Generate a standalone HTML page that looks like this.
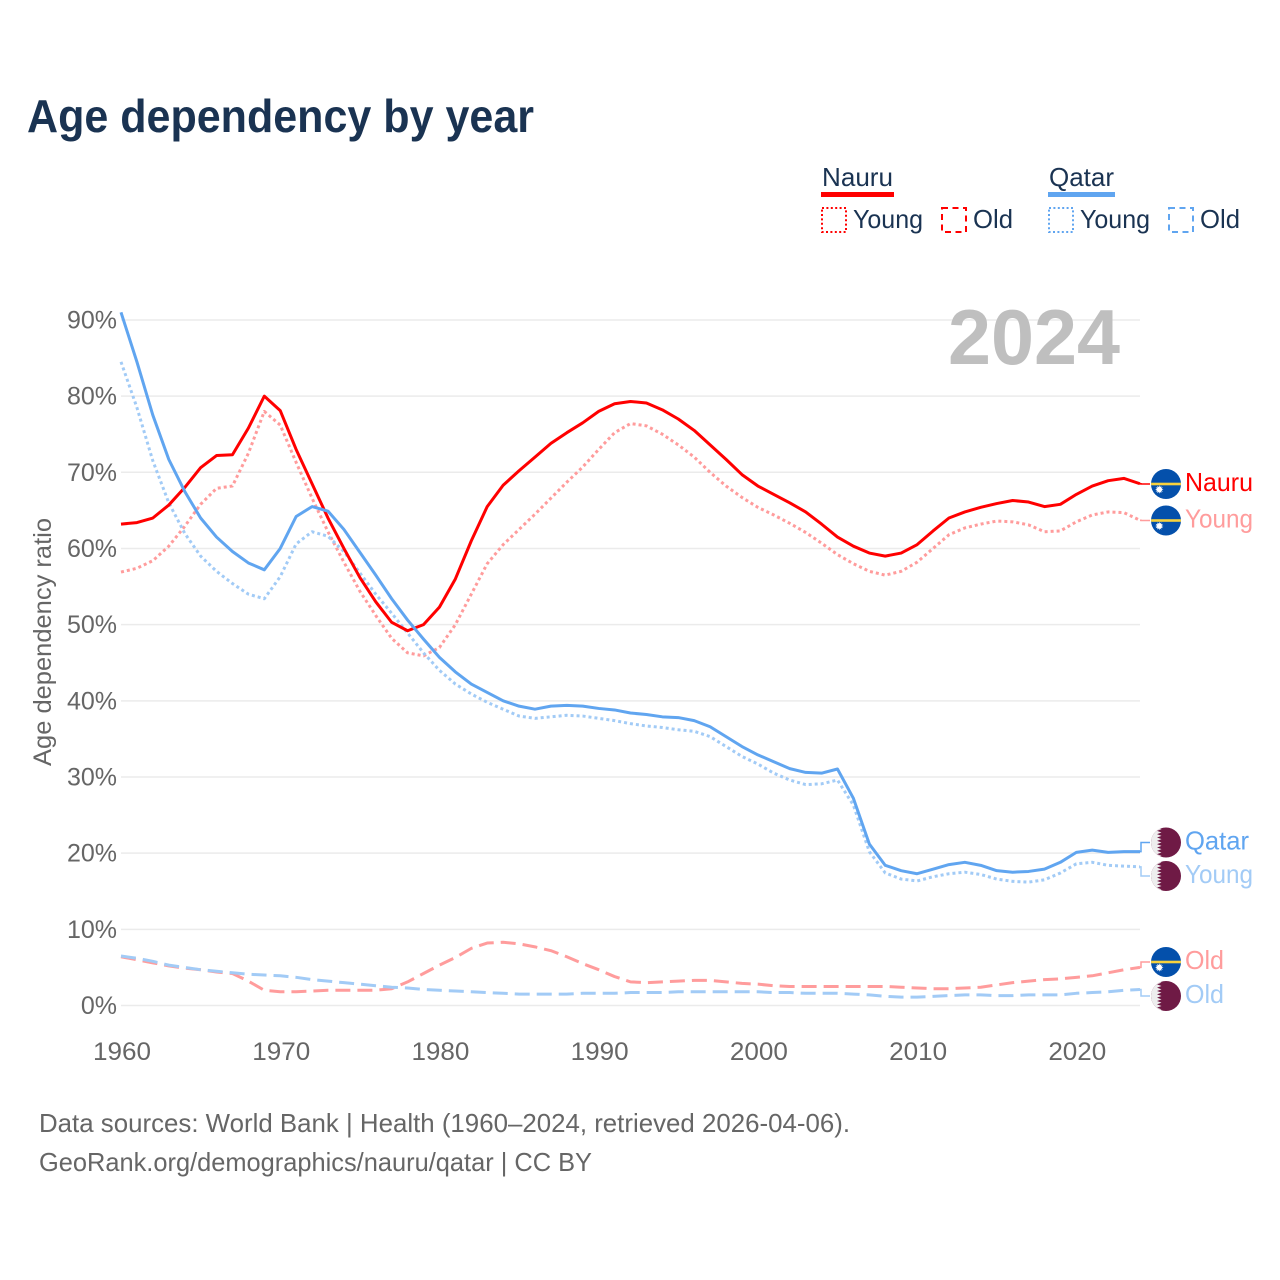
<!DOCTYPE html>
<html lang="en">
<head>
<meta charset="utf-8">
<title>Age dependency by year</title>
<style>
html,body{margin:0;padding:0;background:#fff;width:1280px;height:1280px;overflow:hidden}
svg{display:block;font-family:"Liberation Sans",sans-serif}
</style>
</head>
<body>
<svg id="chart" xmlns="http://www.w3.org/2000/svg" width="1280" height="1280" viewBox="0 0 1280 1280">
  <text x="27" y="132" font-size="46" font-weight="700" fill="#1a3352" textLength="507" lengthAdjust="spacingAndGlyphs">Age dependency by year</text>

  <g font-size="26" fill="#1a3352">
    <g>
      <text x="822" y="186" textLength="71" lengthAdjust="spacingAndGlyphs">Nauru</text>
      <rect x="821" y="192" width="73" height="5" fill="#ff0000"/>
      <rect x="822" y="208" width="24" height="24" fill="none" stroke="#ff0000" stroke-width="2" stroke-dasharray="2 2.4"/>
      <text x="853" y="228" textLength="70" lengthAdjust="spacingAndGlyphs">Young</text>
      <rect x="942" y="208" width="24" height="24" fill="none" stroke="#ff0000" stroke-width="2" stroke-dasharray="6 4.5"/>
      <text x="973" y="228" textLength="40" lengthAdjust="spacingAndGlyphs">Old</text>
    </g>
    <g>
      <text x="1049" y="186" textLength="65" lengthAdjust="spacingAndGlyphs">Qatar</text>
      <rect x="1048" y="192" width="67" height="5" fill="#60a5f0"/>
      <rect x="1049" y="208" width="24" height="24" fill="none" stroke="#60a5f0" stroke-width="2" stroke-dasharray="2 2.4"/>
      <text x="1080" y="228" textLength="70" lengthAdjust="spacingAndGlyphs">Young</text>
      <rect x="1169" y="208" width="24" height="24" fill="none" stroke="#60a5f0" stroke-width="2" stroke-dasharray="6 4.5"/>
      <text x="1200" y="228" textLength="40" lengthAdjust="spacingAndGlyphs">Old</text>
    </g>
  </g>

  <text transform="translate(51,642) rotate(-90)" text-anchor="middle" font-size="25" fill="#666666" textLength="248" lengthAdjust="spacingAndGlyphs">Age dependency ratio</text>

  <g id="grid-layer"></g>
  <g id="y-tick-layer"></g>
  <g id="x-tick-layer"></g>

  <text x="948" y="364" font-size="78" font-weight="700" fill="#bfbfbf" textLength="172" lengthAdjust="spacingAndGlyphs">2024</text>

  <g id="series-layer"></g>
  <g id="label-layer"></g>

  <text x="39" y="1132" font-size="26" fill="#666666" textLength="811" lengthAdjust="spacingAndGlyphs">Data sources: World Bank | Health (1960–2024, retrieved 2026-04-06).</text>
  <text x="39" y="1171" font-size="26" fill="#666666" textLength="553" lengthAdjust="spacingAndGlyphs">GeoRank.org/demographics/nauru/qatar | CC BY</text>
</svg>
<script>
const firstYear = 1960;
const lastYear = 2024;
const yTicks = [0, 10, 20, 30, 40, 50, 60, 70, 80, 90];
const xTicks = [1960, 1970, 1980, 1990, 2000, 2010, 2020];

const nauruTotal = [63.2,63.4,64.0,65.7,68.0,70.6,72.2,72.3,75.8,80.0,78.1,73.0,68.5,64.0,60.0,56.2,53.0,50.3,49.2,50.0,52.3,56.0,61.0,65.5,68.3,70.2,72.0,73.8,75.2,76.5,78.0,79.0,79.3,79.1,78.2,77.0,75.5,73.6,71.7,69.7,68.2,67.1,66.0,64.8,63.2,61.5,60.3,59.4,59.0,59.4,60.5,62.3,64.0,64.8,65.4,65.9,66.3,66.1,65.5,65.8,67.1,68.2,68.9,69.2,68.5];
const nauruYoung = [56.9,57.4,58.4,60.3,62.9,65.8,67.9,68.2,72.5,78.0,76.2,71.3,66.6,62.2,58.2,54.4,51.2,48.2,46.3,45.9,47.0,50.0,54.0,58.0,60.5,62.5,64.5,66.6,68.7,70.7,73.0,75.2,76.4,76.1,75.0,73.6,72.0,70.0,68.2,66.7,65.4,64.4,63.3,62.1,60.7,59.2,58.0,57.0,56.5,57.0,58.2,60.0,61.8,62.7,63.2,63.6,63.5,63.1,62.2,62.3,63.5,64.4,64.8,64.7,63.7];
const nauruOld = [6.4,6.0,5.6,5.2,4.9,4.7,4.4,4.2,3.2,2.0,1.8,1.8,1.9,2.0,2.0,2.0,2.0,2.2,3.1,4.2,5.3,6.3,7.5,8.2,8.3,8.1,7.7,7.2,6.4,5.5,4.7,3.8,3.1,3.0,3.1,3.2,3.3,3.3,3.1,2.9,2.8,2.6,2.5,2.5,2.5,2.5,2.5,2.5,2.5,2.4,2.3,2.2,2.2,2.3,2.4,2.7,3.0,3.2,3.4,3.5,3.7,3.9,4.3,4.7,5.0];
const qatarTotal = [91.0,84.5,77.5,71.7,67.5,64.0,61.5,59.6,58.1,57.2,60.0,64.2,65.5,64.9,62.5,59.5,56.5,53.4,50.6,48.1,45.7,43.8,42.2,41.1,40.0,39.3,38.9,39.3,39.4,39.3,39.0,38.8,38.4,38.2,37.9,37.8,37.4,36.6,35.3,34.0,32.9,32.0,31.1,30.6,30.5,31.05,27.2,21.2,18.4,17.7,17.3,17.9,18.5,18.8,18.4,17.7,17.5,17.6,17.9,18.8,20.1,20.4,20.1,20.2,20.2];
const qatarYoung = [84.5,78.5,71.5,66.0,62.0,59.0,57.0,55.4,54.0,53.4,56.3,60.6,62.2,61.6,59.6,56.8,54.0,51.5,48.9,46.3,44.0,42.2,40.9,39.8,38.9,38.0,37.7,37.9,38.1,38.0,37.7,37.4,37.0,36.7,36.5,36.2,36.0,35.3,34.0,32.7,31.7,30.5,29.6,29.0,29.1,29.6,26.3,20.2,17.4,16.6,16.35,16.9,17.3,17.5,17.2,16.6,16.3,16.2,16.5,17.4,18.6,18.8,18.4,18.3,18.2];
const qatarOld = [6.5,6.2,5.8,5.3,5.0,4.7,4.5,4.3,4.1,4.0,3.9,3.7,3.4,3.2,3.0,2.8,2.6,2.4,2.3,2.1,2.0,1.9,1.8,1.7,1.6,1.5,1.5,1.5,1.5,1.6,1.6,1.6,1.7,1.7,1.7,1.8,1.8,1.8,1.8,1.8,1.8,1.7,1.7,1.6,1.6,1.6,1.5,1.4,1.2,1.1,1.1,1.2,1.3,1.4,1.4,1.3,1.3,1.4,1.4,1.4,1.6,1.7,1.8,2.0,2.1];

const NS = 'http://www.w3.org/2000/svg';
const plotLeft = 121;
const plotRight = 1140;
const plotZero = 1005.5;
const pxPerPercent = 7.617;

function xScale(year) {
  return plotLeft + (year - firstYear) * (plotRight - plotLeft) / (lastYear - firstYear);
}
function yScale(value) {
  return plotZero - value * pxPerPercent;
}
function make(tag, attrs, parent) {
  const el = document.createElementNS(NS, tag);
  for (const k in attrs) el.setAttribute(k, attrs[k]);
  parent.appendChild(el);
  return el;
}

const gridLayer = document.getElementById('grid-layer');
const yTickLayer = document.getElementById('y-tick-layer');
const xTickLayer = document.getElementById('x-tick-layer');
const seriesLayer = document.getElementById('series-layer');
const labelLayer = document.getElementById('label-layer');

yTicks.forEach(function (t) {
  const line = make('line', {x1: plotLeft, x2: plotRight, y1: yScale(t), y2: yScale(t), stroke: '#ebebeb', 'stroke-width': 1.5}, gridLayer);
  
  
  const label = make('text', {x: 117, y: yScale(t) + 8.5, 'text-anchor': 'end', 'font-size': 25, fill: '#666666'}, yTickLayer);
  
  
  label.textContent = t + '%';
});

xTicks.forEach(function (t) {
  const label = make('text', {x: xScale(t) + 1, y: 1060, 'text-anchor': 'middle', 'font-size': 25, fill: '#666666', textLength: 58, lengthAdjust: 'spacingAndGlyphs'}, xTickLayer);
  
  
  label.textContent = t;
});

function drawSeries(name, values, color, width, dash) {
  const d = values.map(function (v, i) {
    return (i ? 'L' : 'M') + xScale(firstYear + i).toFixed(2) + ' ' + yScale(v).toFixed(2);
  }).join('');
  const attrs = {d: d, fill: 'none', stroke: color, 'stroke-width': width, 'stroke-linejoin': 'round'};
  if (dash) attrs['stroke-dasharray'] = dash;
  const path = make('path', attrs, seriesLayer);
  
  
}

const RED = '#ff0000';
const RED_LIGHT = '#ff9c9c';
const BLUE = '#60a5f0';
const BLUE_LIGHT = '#a2cbf6';

drawSeries('line-nauru-old', nauruOld, RED_LIGHT, 3, '15 7');
drawSeries('line-qatar-old', qatarOld, BLUE_LIGHT, 3, '15 7');
drawSeries('line-nauru-young', nauruYoung, RED_LIGHT, 3, '3 3');
drawSeries('line-qatar-young', qatarYoung, BLUE_LIGHT, 3, '3 3');
drawSeries('line-nauru-total', nauruTotal, RED, 3, null);
drawSeries('line-qatar-total', qatarTotal, BLUE, 3, null);

let flagCount = 0;
function drawFlag(kind, cy, parent) {
  flagCount += 1;
  const cx = 1166;
  const r = 15;
  const g = make('g', {}, parent);
  
  
  const id = 'flag-clip-' + flagCount;
  const clip = make('clipPath', {id: id}, g);
  make('circle', {cx: cx, cy: cy, r: r}, clip);
  const inner = make('g', {'clip-path': 'url(#' + id + ')'}, g);
  if (kind === 'nauru') {
    make('rect', {x: cx - r, y: cy - r, width: 2 * r, height: 2 * r, fill: '#0450ab'}, inner);
    make('rect', {x: cx - r, y: cy - 1.3, width: 2 * r, height: 2.6, fill: '#f7d23e'}, inner);
    let star = '';
    for (let i = 0; i < 24; i++) {
      const rad = i % 2 ? 2.4 : 4.2;
      const a = i * Math.PI / 12;
      star += (cx - 6.7 + rad * Math.cos(a)).toFixed(2) + ',' + (cy + 5.5 + rad * Math.sin(a)).toFixed(2) + ' ';
    }
    make('polygon', {points: star, fill: '#ffffff'}, inner);
  } else {
    make('rect', {x: cx - r, y: cy - r, width: 2 * r, height: 2 * r, fill: '#6f1a45'}, inner);
    let pts = (cx - r) + ',' + (cy - r);
    const teeth = 9;
    const h = 2 * r / teeth;
    for (let i = 0; i < teeth; i++) {
      pts += ' ' + (cx - 9) + ',' + (cy - r + i * h) + ' ' + (cx - 4.5) + ',' + (cy - r + (i + 0.5) * h);
    }
    pts += ' ' + (cx - 9) + ',' + (cy + r) + ' ' + (cx - r) + ',' + (cy + r);
    make('polygon', {points: pts, fill: '#eeeeee'}, inner);
  }
}

function drawEndLabel(name, values, kind, text, textWidth, labelY, color) {
  const g = make('g', {}, labelLayer);
  
  
  const endY = yScale(values[values.length - 1]);
  const conn = make('path', {d: 'M' + plotRight + ' ' + endY.toFixed(2) + 'H1141V' + labelY + 'H1150', fill: 'none', stroke: color, 'stroke-width': 1.5}, g);
  
  
  drawFlag(kind, labelY, g);
  const label = make('text', {x: 1185, y: labelY + 7, 'font-size': 26, fill: color, textLength: textWidth, lengthAdjust: 'spacingAndGlyphs'}, g);
  
  
  label.textContent = text;
}

drawEndLabel('end-label-nauru-total', nauruTotal, 'nauru', 'Nauru', 68, 484, RED);
drawEndLabel('end-label-nauru-young', nauruYoung, 'nauru', 'Young', 68, 520.5, RED_LIGHT);
drawEndLabel('end-label-qatar-total', qatarTotal, 'qatar', 'Qatar', 64, 842.5, BLUE);
drawEndLabel('end-label-qatar-young', qatarYoung, 'qatar', 'Young', 68, 876, BLUE_LIGHT);
drawEndLabel('end-label-nauru-old', nauruOld, 'nauru', 'Old', 39, 962, RED_LIGHT);
drawEndLabel('end-label-qatar-old', qatarOld, 'qatar', 'Old', 39, 996, BLUE_LIGHT);
</script>
</body>
</html>
